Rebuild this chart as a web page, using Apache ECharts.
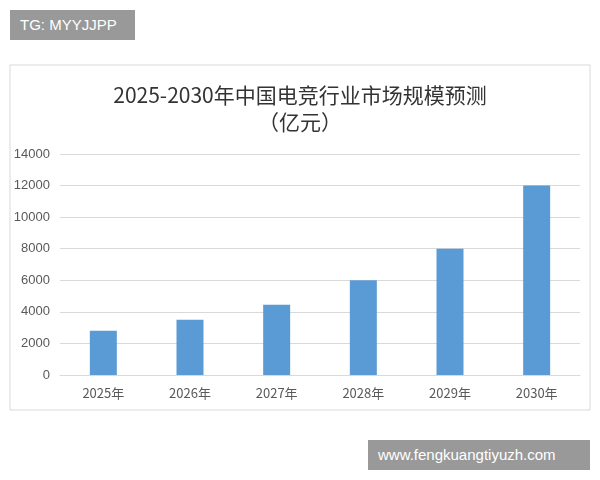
<!DOCTYPE html>
<html><head><meta charset="utf-8">
<script src="https://cdn.jsdelivr.net/npm/echarts@6/dist/echarts.min.js"></script>
<style>
html,body{margin:0;padding:0;background:#fff;}
#c{width:600px;height:480px;position:relative;}
.tag{position:absolute;background:#999;color:#fff;font-family:"Liberation Sans",Arial,sans-serif;font-size:15px;padding:0 10px;line-height:30px;}
</style></head><body>
<div id="c"></div>
<div class="tag" style="left:10px;top:10px;width:105px;">TG: MYYJJPP</div>
<div class="tag" style="left:368px;top:440px;width:202px;">www.fengkuangtiyuzh.com</div>
<script>
const categories=['2025年','2026年','2027年','2028年','2029年','2030年'];
const values=[2800,3500,4450,6000,8000,12000];
const titleText='2025-2030年中国电竞行业市场规模预测\n（亿元）';
const chart=echarts.init(document.getElementById('c'));
chart.setOption({
  animation:false,
  graphic:[{type:'rect',shape:{x:10,y:65,width:580,height:345},style:{fill:'none',stroke:'#d9d9d9',lineWidth:1},z:-1}],
  title:{text:titleText,left:'center',top:77,textStyle:{fontFamily:'Noto Sans CJK SC',fontSize:21,fontWeight:'normal',color:'#333',lineHeight:27}},
  grid:{left:60,right:20,top:154,bottom:105},
  xAxis:{type:'category',data:categories,axisTick:{show:false},axisLine:{lineStyle:{color:'#d9d9d9'}},
    axisLabel:{color:'#595959',fontSize:13,fontFamily:'Noto Sans CJK SC',margin:12}},
  yAxis:{type:'value',min:0,max:14000,interval:2000,axisLine:{show:false},axisTick:{show:false},
    axisLabel:{color:'#595959',fontSize:13,margin:10,formatter:v=>String(v)},splitLine:{lineStyle:{color:'#d9d9d9'}}},
  series:[{type:'bar',data:values,barWidth:27,itemStyle:{color:'#5b9bd5'}}]
});
</script></body></html>
